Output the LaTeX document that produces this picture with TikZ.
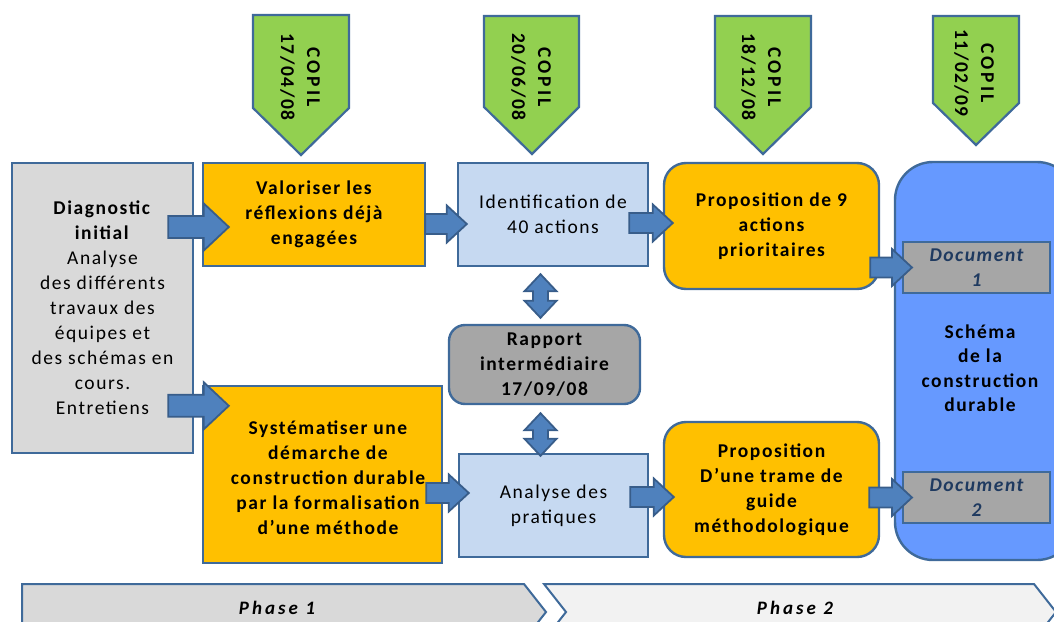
\documentclass[tikz,border=0pt]{standalone}
\usepackage{fontspec}
\setmainfont{Carlito}[LetterSpace=8]
\newfontfamily\widefont{Carlito}[LetterSpace=16]
\usetikzlibrary{calc}
\definecolor{bord}{HTML}{3F6A9A}
\definecolor{arrfill}{HTML}{4F81BD}
\definecolor{arrbord}{HTML}{385D8A}
\definecolor{orangebox}{HTML}{FFC000}
\definecolor{graybox}{HTML}{D9D9D9}
\definecolor{lightblue}{HTML}{C6D9F1}
\definecolor{darkgray}{HTML}{A6A6A6}
\definecolor{copilgreen}{HTML}{92D050}
\definecolor{schemablue}{HTML}{6699FF}
\definecolor{doctext}{HTML}{1F3A60}
\definecolor{phaseone}{HTML}{D9D9D9}
\definecolor{phasetwo}{HTML}{F2F2F2}
\tikzset{
  boxbase/.style={draw=bord, line width=2.4pt, inner sep=0pt, align=center,
    font=\fontsize{19.5}{25}\selectfont},
  boldtext/.style={font=\bfseries\fontsize{19.5}{25}\selectfont},
  bigarrow/.style={fill=arrfill, draw=arrbord, line width=1.8pt,
    to path={let \p1=(\tikztostart), \p2=(\tikztotarget) in
      (\x1,\y1+11) -- (\x2-25,\y1+11) -- (\x2-25,\y1+23.5) -- (\x2,\y1)
      -- (\x2-25,\y1-23.5) -- (\x2-25,\y1-11) -- (\x1,\y1-11) -- cycle}},
  smallarrow/.style={fill=arrfill, draw=arrbord, line width=1.8pt,
    to path={let \p1=(\tikztostart), \p2=(\tikztotarget) in
      (\x1,\y1+10) -- (\x2-20,\y1+10) -- (\x2-20,\y1+18.5) -- (\x2,\y1)
      -- (\x2-20,\y1-18.5) -- (\x2-20,\y1-10) -- (\x1,\y1-10) -- cycle}},
  dblarrow/.style={fill=arrfill, draw=arrbord, line width=1.8pt,
    to path={let \p1=(\tikztostart), \p2=(\tikztotarget) in
      (\x1,\y1) -- (\x1+16,\y1-17) -- (\x1+7.5,\y1-17) -- (\x1+7.5,\y2+17)
      -- (\x1+16,\y2+17) -- (\x1,\y2) -- (\x1-16,\y2+17) -- (\x1-7.5,\y2+17)
      -- (\x1-7.5,\y1-17) -- (\x1-16,\y1-17) -- cycle}},
  copilshape/.style={fill=copilgreen, draw=bord, line width=2.2pt},
  copiltext/.style={rotate=-90, align=center, inner sep=0pt,
    font=\bfseries\fontsize{19.5}{26}\selectfont},
  phaseshape/.style={draw=bord, line width=2pt},
  phasetext/.style={inner sep=0pt, font=\widefont\bfseries\itshape\fontsize{19}{22}\selectfont},
}
\begin{document}
\begin{tikzpicture}[x=1pt,y=-1pt]
\useasboundingbox (0,0) rectangle (1054,621);

% COPIL markers
\draw[copilshape] (253,15) -- (349,15) -- (349,108) -- (301,155) -- (253,108) -- cycle;
\node[copiltext] (c1) at (300,77) {{\widefont COPIL}\\17/04/08};
\draw[copilshape] (484,16) -- (579,16) -- (579,107) -- (532,154) -- (484,107) -- cycle;
\node[copiltext] (c2) at (531,77) {{\widefont COPIL}\\20/06/08};
\draw[copilshape] (715,16) -- (811,16) -- (811,107) -- (763,154) -- (715,107) -- cycle;
\node[copiltext] (c3) at (761,77) {{\widefont COPIL}\\18/12/08};
\draw[copilshape] (933,16) -- (1019,16) -- (1019,103) -- (976,145) -- (933,103) -- cycle;
\node[copiltext] (c4) at (974,73) {{\widefont COPIL}\\11/02/09};

% boxes
\node[boxbase, fill=graybox, minimum width=181pt, minimum height=290pt] (diag) at (102.5,308)
  {\textbf{Diagnostic}\\\textbf{initial}\\Analyse\\des différents\\travaux des\\équipes et\\des schémas en\\cours.\\Entretiens};
\node[boxbase, boldtext, fill=orangebox, minimum width=222pt, minimum height=103pt] (val) at (314,214.5)
  {Valoriser les\\réflexions déjà\\engagées};
\node[boxbase, fill=lightblue, minimum width=190pt, minimum height=103pt] (ident) at (553,214.5)
  {Identification de\\40 actions};
\node[boxbase, boldtext, fill=orangebox, rounded corners=22pt, minimum width=215pt, minimum height=126pt] (prop9) at (771.5,226)
  {Proposition de 9\\actions\\prioritaires};
\node[boxbase, fill=schemablue, rounded corners=38pt, minimum width=180pt, minimum height=398pt] (schema) at (985,361) {};
\node[inner sep=0pt, align=center, font=\bfseries\fontsize{19.5}{24.5}\selectfont] (schematext) at (980,368)
  {Schéma\\de la\\construction\\durable};
\node[boxbase, fill=darkgray, line width=2pt, minimum width=147pt, minimum height=51pt, text=doctext, font=\bfseries\itshape\fontsize{19.5}{25}\selectfont] (doc1) at (976.5,267.5)
  {Document\\1};
\node[boxbase, fill=darkgray, line width=2pt, minimum width=147pt, minimum height=51pt, text=doctext, font=\bfseries\itshape\fontsize{19.5}{25}\selectfont] (doc2) at (976.5,497.5)
  {Document\\2};
\node[boxbase, boldtext, fill=darkgray, rounded corners=16pt, minimum width=191pt, minimum height=79pt] (rapport) at (544.5,364.5)
  {Rapport\\intermédiaire\\17/09/08};
\node[boxbase, fill=orangebox, minimum width=239pt, minimum height=177pt] (syst) at (322.5,474.5) {};
\node[inner sep=0pt, align=center, boldtext] (systtext) at (328,478)
  {Systématiser une\\démarche de\\construction durable\\par la formalisation\\d’une méthode};
\node[boxbase, fill=lightblue, minimum width=189pt, minimum height=103pt] (analyse) at (553.5,505.5)
  {Analyse des\\pratiques};
\node[boxbase, boldtext, fill=orangebox, rounded corners=22pt, minimum width=215pt, minimum height=135pt] (trame) at (771.5,489.5)
  {Proposition\\D’une trame de\\guide\\méthodologique};

% connectors
\draw[bigarrow] ($(diag.east |- val.west)+(-26,12.5)$) to ($(val.west)+(27,12.5)$);
\draw[bigarrow] ($(diag.east |- syst.north)+(-26,21)$) to ($(syst.north west)+(27,21)$);
\draw[smallarrow] ($(val.east)+(-1,9.5)$) to ($(ident.west)+(10,9.5)$);
\draw[smallarrow] ($(ident.east)+(-20,8.5)$) to ($(prop9.west)+(10,-3)$);
\draw[smallarrow] ($(prop9.east |- doc1.west)+(-10,0)$) to ($(doc1.west)+(10,0)$);
\draw[smallarrow] ($(syst.east)+(-17,18.5)$) to ($(analyse.west)+(11,0)$);
\draw[smallarrow] ($(analyse.east)+(-19,-8.5)$) to ($(trame.west)+(11,0)$);
\draw[smallarrow] ($(trame.east |- doc2.west)+(-11,0)$) to ($(doc2.west)+(10,0)$);
\draw[dblarrow] ($(ident.south -| rapport.north)+(-4,7)$) to ($(rapport.north)+(-4,-6)$);
\draw[dblarrow] ($(rapport.south)+(-4,8)$) to ($(analyse.north -| rapport.south)+(-4,3)$);

% phases
\draw[phaseshape, fill=phaseone] (22,584) -- (524,584) -- (546,612) -- (524,640) -- (22,640) -- cycle;
\node[phasetext] (ph1) at (277,608) {Phase 1};
\draw[phaseshape, fill=phasetwo] (544,584) -- (1034,584) -- (1056,612) -- (1034,640) -- (544,640) -- (566,612) -- cycle;
\node[phasetext] (ph2) at (795,608) {Phase 2};
\end{tikzpicture}
\end{document}
